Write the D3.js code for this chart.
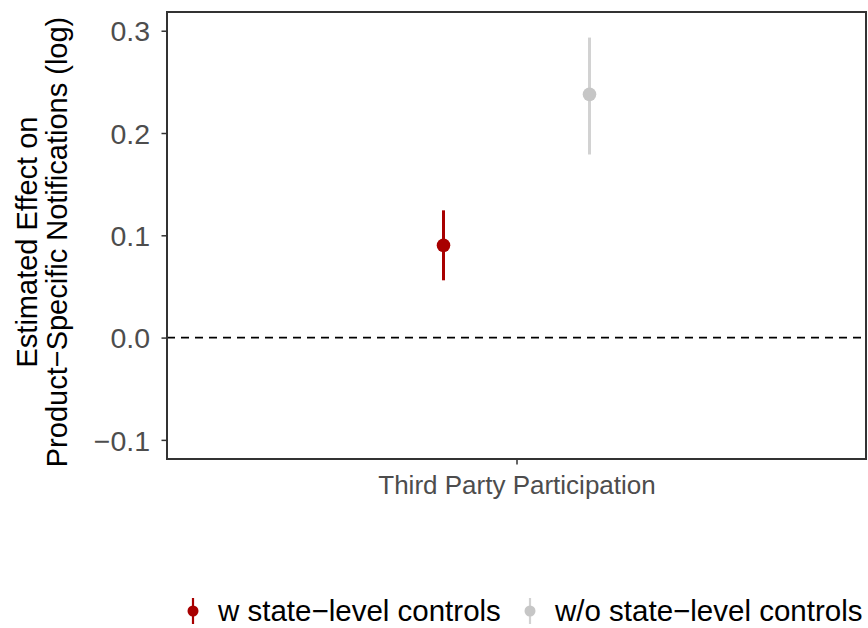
<!DOCTYPE html>
<html>
<head>
<meta charset="utf-8">
<script src="https://cdn.jsdelivr.net/npm/d3@7"></script>
<style>
  body { margin: 0; background: #fff; }
  svg { display: block; font-family: "Liberation Sans", Arial, Helvetica, sans-serif; }
</style>
</head>
<body>
<svg id="chart" width="868" height="628"></svg>
<script>
// Coefficient estimates with confidence intervals, one per model
const categories = ["Third Party Participation"];
const models = ["w state\u2212level controls", "w/o state\u2212level controls"];
const estimates = [0.0902, 0.2378];
const lower = [0.0560, 0.1790];
const upper = [0.1244, 0.2933];
const yTicks = [-0.1, 0.0, 0.1, 0.2, 0.3];
const lineColors = ["#a80000", "#d2d2d2"];
const pointColors = ["#a80000", "#c6c6c6"];

const rows = models.map((m, i) => ({
  model: m, category: categories[0],
  est: estimates[i], lo: lower[i], hi: upper[i],
  line: lineColors[i], point: pointColors[i]
}));

const svg = d3.select("#chart");
const panel = { left: 167, right: 866, top: 12, bottom: 459 };

const y = d3.scaleLinear().domain([-0.1187, 0.3183]).range([panel.bottom, panel.top]);
const x = d3.scalePoint().domain(categories).range([panel.left, panel.right]).padding(0.5);
const dodge = d3.scalePoint().domain(models).range([-73, 73]);

// zero reference line
svg.append("line")
  .attr("x1", panel.left).attr("x2", panel.right)
  .attr("y1", y(0)).attr("y2", y(0))
  .attr("stroke", "#000").attr("stroke-width", 1.6)
  .attr("stroke-dasharray", "8,6");

// intervals and points
const g = svg.append("g");
g.selectAll("line.ci").data(rows).join("line")
  .attr("class", "ci")
  .attr("x1", d => x(d.category) + dodge(d.model))
  .attr("x2", d => x(d.category) + dodge(d.model))
  .attr("y1", d => y(d.lo)).attr("y2", d => y(d.hi))
  .attr("stroke", d => d.line).attr("stroke-width", 3);
g.selectAll("circle.pt").data(rows).join("circle")
  .attr("class", "pt")
  .attr("cx", d => x(d.category) + dodge(d.model))
  .attr("cy", d => y(d.est))
  .attr("r", 6.8)
  .attr("fill", d => d.point);

// axes
const yAxis = svg.append("g")
  .attr("transform", `translate(${panel.left},0)`)
  .call(d3.axisLeft(y).tickValues(yTicks).tickSize(5.5).tickPadding(11.5)
    .tickFormat(d => d3.format(".1f")(d).replace("-", "\u2212")));
yAxis.select(".domain").remove();
yAxis.selectAll(".tick line").attr("stroke", "#333").attr("stroke-width", 1.5);
yAxis.selectAll(".tick text").attr("fill", "#4d4d4d").attr("font-size", 28.5).attr("dy", "0.36em");

const xAxis = svg.append("g")
  .attr("transform", `translate(0,${panel.bottom})`)
  .call(d3.axisBottom(x).tickSize(5.5).tickPadding(10));
xAxis.select(".domain").remove();
xAxis.selectAll(".tick line").attr("stroke", "#333").attr("stroke-width", 1.5);
xAxis.selectAll(".tick text").attr("fill", "#4d4d4d").attr("font-size", 26).attr("dy", "0.75em");

// panel border
svg.append("rect")
  .attr("x", panel.left).attr("y", panel.top)
  .attr("width", panel.right - panel.left).attr("height", panel.bottom - panel.top)
  .attr("fill", "none").attr("stroke", "#333").attr("stroke-width", 2);

// y axis title (two lines)
const yt = svg.append("text")
  .attr("transform", `translate(0,242) rotate(-90)`)
  .attr("text-anchor", "middle").attr("font-size", 29).attr("fill", "#000");
yt.append("tspan").attr("x", 0).attr("y", 37).text("Estimated Effect on");
yt.append("tspan").attr("x", 0).attr("y", 67).text("Product\u2212Specific Notifications (log)");

// legend
const legend = svg.append("g").attr("transform", "translate(0,611)");
const keyX = [193, 530];
const item = legend.selectAll("g").data(rows).join("g")
  .attr("transform", (d, i) => `translate(${keyX[i]},0)`);
item.append("line").attr("y1", -13).attr("y2", 13)
  .attr("stroke", d => d.line).attr("stroke-width", 2.2);
item.append("circle").attr("r", 5.5).attr("fill", d => d.point);
item.append("text").attr("x", 25).attr("y", 10)
  .attr("font-size", 29.5).attr("fill", "#000").text(d => d.model);
</script>
</body>
</html>
